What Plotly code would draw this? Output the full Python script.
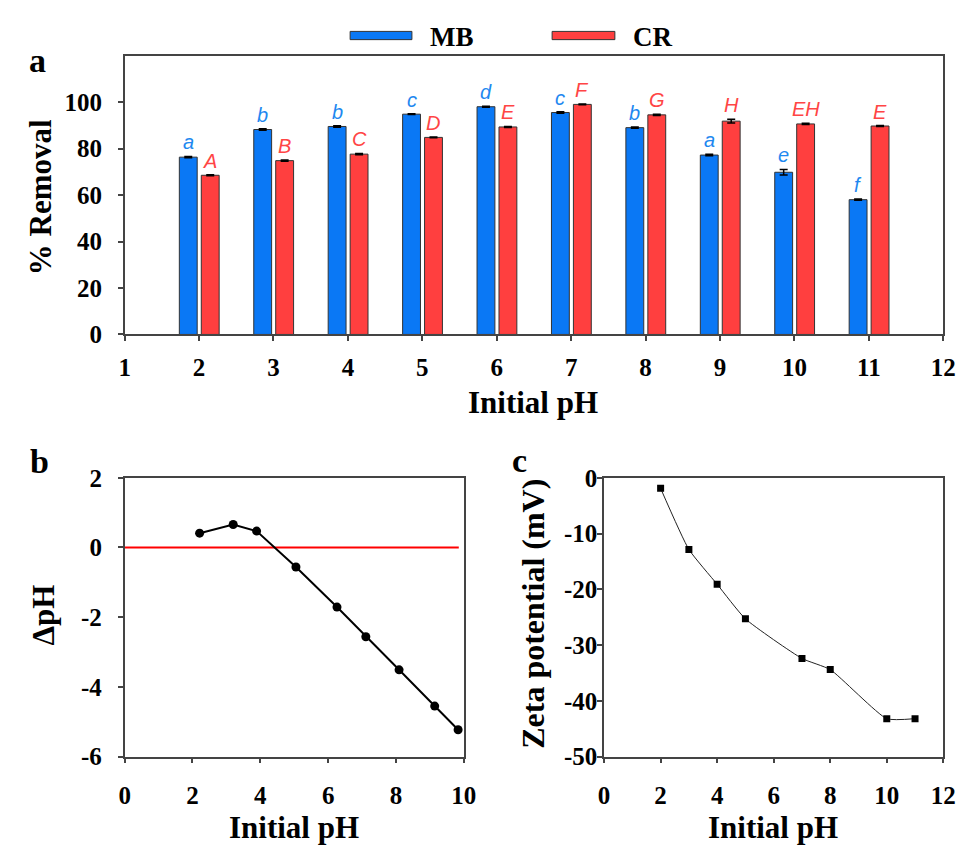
import plotly.graph_objects as go

# ---------------- data ----------------
ph_a = [2, 3, 4, 5, 6, 7, 8, 9, 10, 11]
mb_removal = [76.3, 88.2, 89.5, 94.8, 98.0, 95.5, 89.0, 77.2, 69.8, 58.0]
mb_err = [0.3, 0.3, 0.3, 0.2, 0.2, 0.3, 0.3, 0.3, 1.2, 0.3]
cr_removal = [68.5, 74.8, 77.6, 84.8, 89.3, 99.0, 94.5, 91.8, 90.6, 89.7]
cr_err = [0.2, 0.3, 0.3, 0.2, 0.2, 0.2, 0.3, 0.8, 0.3, 0.2]
mb_letters = ["a", "b", "b", "c", "d", "c", "b", "a", "e", "f"]
cr_letters = ["A", "B", "C", "D", "E", "F", "G", "H", "EH", "E"]

ph_b = [2.21, 3.2, 3.89, 5.05, 6.26, 7.11, 8.09, 9.14, 9.83]
delta_ph = [0.41, 0.66, 0.47, -0.56, -1.71, -2.56, -3.51, -4.55, -5.23]
zero_line_x = [0, 9.85]
zero_line_y = [0, 0]

ph_c = [2, 3, 4, 5, 7, 8, 10, 11]
zeta = [-1.9, -12.85, -19.1, -25.3, -32.4, -34.4, -43.2, -43.2]

xa_ticks = list(range(1, 13))
ya_ticks = [0, 20, 40, 60, 80, 100]
xb_ticks = [0, 2, 4, 6, 8, 10]
yb_ticks = [-6, -4, -2, 0, 2]
xc_ticks = [0, 2, 4, 6, 8, 10, 12]
yc_ticks = [-50, -40, -30, -20, -10, 0]

MB_COLOR = "#0A78F5"
CR_COLOR = "#FF3F3F"
MB_TXT = "#1E88F0"
CR_TXT = "#FF4545"
SERIF = "Liberation Serif"
SANS = "Liberation Sans"
AXC = "#444444"

W, H = 972, 850
def px(x):
    return x / W
def py(y):
    return 1 - y / H

def lbl(v):
    return str(v).replace("\u2212", "-")

BAR_W = 0.24
MB_OFF = -0.265
CR_OFF = 0.03

fig = go.Figure()

fig.add_trace(go.Bar(
    x=ph_a, y=mb_removal, width=BAR_W, offset=MB_OFF,
    marker=dict(color=MB_COLOR, line=dict(color="#333333", width=1)),
    error_y=dict(type="data", array=mb_err, color="black", thickness=1.5, width=4, visible=True),
    xaxis="x", yaxis="y", showlegend=False, name="MB"))
fig.add_trace(go.Bar(
    x=ph_a, y=cr_removal, width=BAR_W, offset=CR_OFF,
    marker=dict(color=CR_COLOR, line=dict(color="#333333", width=1)),
    error_y=dict(type="data", array=cr_err, color="black", thickness=1.5, width=4, visible=True),
    xaxis="x", yaxis="y", showlegend=False, name="CR"))

fig.add_trace(go.Scatter(
    x=zero_line_x, y=zero_line_y, mode="lines",
    line=dict(color="#FF0000", width=2), xaxis="x2", yaxis="y2", showlegend=False))
fig.add_trace(go.Scatter(
    x=ph_b, y=delta_ph, mode="lines+markers",
    line=dict(color="black", width=2),
    marker=dict(symbol="circle", size=9, color="black"),
    xaxis="x2", yaxis="y2", showlegend=False))

fig.add_trace(go.Scatter(
    x=ph_c, y=zeta, mode="lines+markers",
    line=dict(color="#222222", width=1, shape="spline", smoothing=0.5),
    marker=dict(symbol="square", size=7, color="black"),
    xaxis="x3", yaxis="y3", showlegend=False))

tickfont = dict(family=SERIF, size=25, color="black", weight="bold")
common = dict(showline=True, linecolor=AXC, linewidth=1.5, mirror=True,
              ticks="outside", tickcolor=AXC, tickwidth=1.5, ticklen=5,
              showgrid=False, zeroline=False, tickfont=tickfont, tickmode="array")

annotations = []
# letters above bars
for xv, yv, e, t in zip(ph_a, mb_removal, mb_err, mb_letters):
    annotations.append(dict(x=xv + MB_OFF + BAR_W / 2, y=yv + e, xref="x", yref="y",
                            text="<i>" + t + "</i>", showarrow=False, yanchor="bottom", yshift=1,
                            font=dict(family=SANS, size=20, color=MB_TXT)))
for xv, yv, e, t in zip(ph_a, cr_removal, cr_err, cr_letters):
    annotations.append(dict(x=xv + CR_OFF + BAR_W / 2, y=yv + e, xref="x", yref="y",
                            text="<i>" + t + "</i>", showarrow=False, yanchor="bottom", yshift=1,
                            font=dict(family=SANS, size=20, color=CR_TXT)))

titlefont = dict(family=SERIF, size=31, color="black", weight="bold")
# axis titles
annotations += [
    dict(x=px(538), y=py(402), xref="paper", yref="paper", text="Initial pH", showarrow=False,
         font=titlefont, xanchor="center", yanchor="middle"),
    dict(x=px(36), y=py(190), xref="paper", yref="paper", text="% Removal", showarrow=False,
         font=titlefont, textangle=-90, xanchor="center", yanchor="middle"),
    dict(x=px(294), y=py(841), xref="paper", yref="paper", text="Initial pH", showarrow=False,
         font=titlefont, xanchor="center", yanchor="middle"),
    dict(x=px(38), y=py(622), xref="paper", yref="paper", text="ΔpH", showarrow=False,
         font=titlefont, textangle=-90, xanchor="center", yanchor="middle"),
    dict(x=px(782), y=py(841), xref="paper", yref="paper", text="Initial pH", showarrow=False,
         font=titlefont, xanchor="center", yanchor="middle"),
    dict(x=px(538), y=py(620), xref="paper", yref="paper", text="Zeta potential (mV)", showarrow=False,
         font=dict(family=SERIF, size=32, color="black", weight="bold"),
         textangle=-90, xanchor="center", yanchor="middle"),
]
# panel labels
lblfont = dict(family=SERIF, size=34, color="black", weight="bold")
annotations += [
    dict(x=px(21), y=py(28), xref="paper", yref="paper", text="a", showarrow=False, font=lblfont),
    dict(x=px(22), y=py(463), xref="paper", yref="paper", text="b", showarrow=False, font=lblfont),
    dict(x=px(524), y=py(462), xref="paper", yref="paper", text="c", showarrow=False, font=lblfont),
]
# legend text
legfont = dict(family=SERIF, size=27, color="black", weight="bold")
annotations += [
    dict(x=px(430), y=py(25), xref="paper", yref="paper", text="MB", showarrow=False,
         font=legfont, xanchor="left", yanchor="middle"),
    dict(x=px(637), y=py(25), xref="paper", yref="paper", text="CR", showarrow=False,
         font=legfont, xanchor="left", yanchor="middle"),
]

shapes = [
    dict(type="rect", xref="paper", yref="paper", x0=px(351), x1=px(414), y0=py(27.5), y1=py(19),
         fillcolor=MB_COLOR, line=dict(color="#333333", width=1)),
    dict(type="rect", xref="paper", yref="paper", x0=px(557), x1=px(621), y0=py(27.5), y1=py(19),
         fillcolor=CR_COLOR, line=dict(color="#333333", width=1)),
]

fig.update_layout(
    width=W, height=H, margin=dict(l=0, r=0, t=0, b=0),
    paper_bgcolor="white", plot_bgcolor="white",
    annotations=annotations, shapes=shapes,
    xaxis=dict(domain=[px(121), px(956)], range=[1, 12], tickvals=xa_ticks,
               ticktext=[lbl(v) for v in xa_ticks],
               anchor="y", ticklabelstandoff=5, **common),
    yaxis=dict(domain=[py(332), py(44)], range=[0, 120], tickvals=ya_ticks,
               ticktext=[lbl(v) for v in ya_ticks],
               anchor="x", ticklabelstandoff=11, **common),
    xaxis2=dict(domain=[px(121), px(467)], range=[0, 10], tickvals=xb_ticks,
                ticktext=[lbl(v) for v in xb_ticks],
                anchor="y2", ticklabelstandoff=11, **common),
    yaxis2=dict(domain=[py(768), py(480)], range=[-6, 2], tickvals=yb_ticks,
                ticktext=[lbl(v) for v in yb_ticks],
                anchor="x2", ticklabelstandoff=11, **common),
    xaxis3=dict(domain=[px(610), px(956)], range=[0, 12], tickvals=xc_ticks,
                ticktext=[lbl(v) for v in xc_ticks],
                anchor="y3", ticklabelstandoff=11, **common),
    yaxis3=dict(domain=[py(768), py(480)], range=[-50, 0], tickvals=yc_ticks,
                ticktext=[lbl(v) for v in yc_ticks],
                anchor="x3", ticklabelstandoff=-5, **common),
)

fig.write_html("out.html")
